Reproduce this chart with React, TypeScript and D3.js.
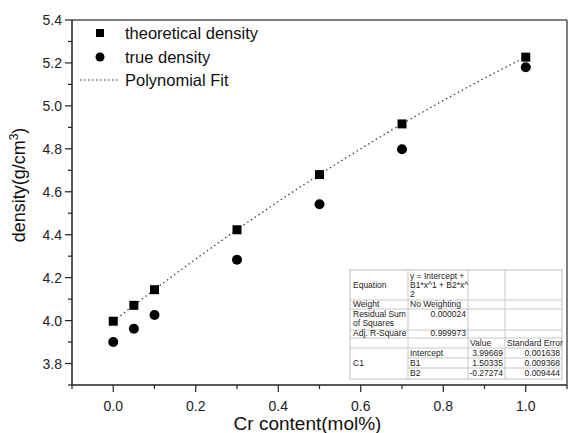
import React from "react";
import * as d3 from "d3";

const crContent = [0, 0.05, 0.1, 0.3, 0.5, 0.7, 1.0];
const theoreticalDensity = [3.997, 4.071, 4.144, 4.423, 4.68, 4.916, 5.227];
const trueDensity = [3.9, 3.962, 4.026, 4.283, 4.542, 4.798, 5.18];
const fitCoefs = [3.99669, 1.50335, -0.27274];
const fitErrors = ["0.001638", "0.009368", "0.009444"];
const xTicks = [0, 0.2, 0.4, 0.6, 0.8, 1.0];
const xMinor = [-0.1, 0.1, 0.3, 0.5, 0.7, 0.9, 1.1];
const yTicks = [3.8, 4.0, 4.2, 4.4, 4.6, 4.8, 5.0, 5.2, 5.4];
const yMinor = [3.7, 3.9, 4.1, 4.3, 4.5, 4.7, 4.9, 5.1, 5.3];
const legendLabels = ["theoretical density", "true density", "Polynomial Fit"];

const W = 569, H = 433;
const L = 72, R = 567, T = 20, B = 385;
const FONT = "'Liberation Sans', Arial, sans-serif";

export default function App() {
  const x = d3.scaleLinear().domain([-0.1, 1.1]).range([L, R]);
  const y = d3.scaleLinear().domain([3.7, 5.4]).range([B, T]);
  const fitXs = d3.range(0, 1.0001, 0.01);
  const fitFn = (v: number) => fitCoefs[0] + fitCoefs[1] * v + fitCoefs[2] * v * v;
  const line = d3.line<number>().x((d) => x(d)).y((d) => y(fitFn(d)));

  // table
  const tx = [350, 408, 468, 505, 562];
  const ty = [270, 300, 309, 330, 338, 348, 358, 368, 379];
  const tf = 8.5;
  const grey = "#c8c8c8";

  return (
    <svg width={W} height={H} style={{ position: "absolute", left: 0, top: 0, background: "#fff" }} fontFamily={FONT}>
      <rect x={0} y={0} width={W} height={H} fill="#fff" />
      {/* frame */}
      <line x1={L} x2={R} y1={T} y2={T} stroke="#555" strokeWidth={1.5} />
      <line x1={R} x2={R} y1={T} y2={B} stroke="#555" strokeWidth={1.5} />
      <line x1={L} x2={L} y1={T} y2={B} stroke="#222" strokeWidth={1.5} />
      <line x1={L} x2={R} y1={B} y2={B} stroke="#222" strokeWidth={1.5} />
      {/* x ticks */}
      {xTicks.map((t) => (
        <g key={"xt" + t}>
          <line x1={x(t)} x2={x(t)} y1={B} y2={B + 7} stroke="#222" strokeWidth={1.2} />
          <text x={x(t)} y={411} textAnchor="middle" fontSize={14} fill="#222">{t.toFixed(1)}</text>
        </g>
      ))}
      {xMinor.map((t) => (
        <line key={"xm" + t} x1={x(t)} x2={x(t)} y1={B} y2={B + 4} stroke="#222" strokeWidth={1.2} />
      ))}
      {/* y ticks */}
      {yTicks.map((t) => (
        <g key={"yt" + t}>
          <line x1={L - 7} x2={L} y1={y(t)} y2={y(t)} stroke="#222" strokeWidth={1.2} />
          <text x={62} y={y(t) + 5} textAnchor="end" fontSize={14} fill="#222">{t.toFixed(1)}</text>
        </g>
      ))}
      {yMinor.map((t) => (
        <line key={"ym" + t} x1={L - 4} x2={L} y1={y(t)} y2={y(t)} stroke="#222" strokeWidth={1.2} />
      ))}
      {/* axis titles */}
      <text x={307.5} y={430} textAnchor="middle" fontSize={19} fill="#111">Cr content(mol%)</text>
      <text transform={`translate(25,185) rotate(-90)`} textAnchor="middle" fontSize={18} fill="#111">
        density(g/cm<tspan dy={-7} fontSize={12}>3</tspan><tspan dy={7}>)</tspan>
      </text>
      {/* fit line */}
      <path d={line(fitXs) || ""} fill="none" stroke="#333" strokeWidth={1.2} strokeDasharray="1.5,3" />
      {/* markers */}
      {crContent.map((c, i) => (
        <rect key={"s" + i} x={x(c) - 4.5} y={y(theoreticalDensity[i]) - 4.5} width={9} height={9} fill="#000" />
      ))}
      {crContent.map((c, i) => (
        <circle key={"c" + i} cx={x(c)} cy={y(trueDensity[i])} r={5} fill="#000" />
      ))}
      {/* legend */}
      <rect x={96} y={29} width={8} height={8} fill="#000" />
      <circle cx={100} cy={57} r={4.5} fill="#000" />
      <line x1={80} x2={120} y1={80} y2={80} stroke="#333" strokeWidth={1} strokeDasharray="1.5,2.5" />
      {legendLabels.map((l, i) => (
        <text key={l} x={125} y={39 + i * 23.5} fontSize={16.5} fill="#111">{l}</text>
      ))}
      {/* table */}
      <g fontSize={tf} fill="#222">
        <rect x={tx[0]} y={ty[0]} width={tx[4] - tx[0]} height={ty[8] - ty[0]} fill="#fff" stroke={grey} strokeWidth={1.2} />
        {tx.slice(1, 4).map((v) => (
          <line key={"tv" + v} x1={v} x2={v} y1={ty[0]} y2={ty[8]} stroke={grey} />
        ))}
        {ty.slice(1, 8).map((v, i) => (
          <line key={"th" + v} x1={i >= 5 ? tx[1] : tx[0]} x2={tx[4]} y1={v} y2={v} stroke={grey} />
        ))}
        <text x={tx[0] + 3} y={288}>Equation</text>
        <text x={tx[1] + 2} y={279}>y = Intercept +</text>
        <text x={tx[1] + 2} y={288}>B1*x^1 + B2*x^</text>
        <text x={tx[1] + 2} y={297}>2</text>
        <text x={tx[0] + 3} y={307}>Weight</text>
        <text x={tx[1] + 2} y={307}>No Weighting</text>
        <text x={tx[0] + 3} y={317}>Residual Sum</text>
        <text x={tx[0] + 3} y={326}>of Squares</text>
        <text x={tx[2] - 2} y={317} textAnchor="end">0.000024</text>
        <text x={tx[0] + 3} y={336}>Adj. R-Square</text>
        <text x={tx[2] - 2} y={336} textAnchor="end">0.999973</text>
        <text x={tx[2] + 2} y={346}>Value</text>
        <text x={tx[3] + 2} y={346}>Standard Error</text>
        <text x={tx[0] + 3} y={366}>C1</text>
        <text x={tx[1] + 2} y={356}>Intercept</text>
        <text x={tx[1] + 2} y={366}>B1</text>
        <text x={tx[1] + 2} y={376}>B2</text>
        {fitCoefs.map((v, i) => (
          <text key={"v" + i} x={tx[3] - 2} y={356 + i * 10} textAnchor="end">{v.toFixed(5)}</text>
        ))}
        {fitErrors.map((v, i) => (
          <text key={"e" + i} x={tx[4] - 2} y={356 + i * 10} textAnchor="end">{v}</text>
        ))}
      </g>
    </svg>
  );
}
